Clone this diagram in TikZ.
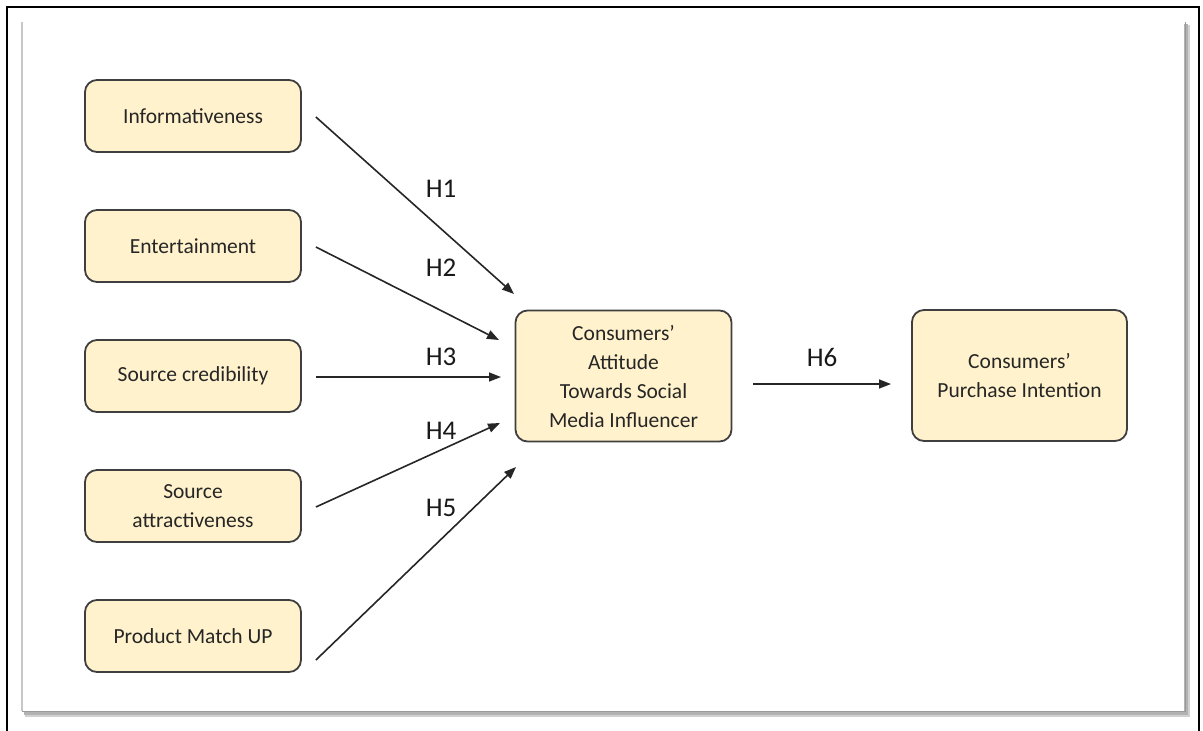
\documentclass[tikz,border=0pt]{standalone}
\usepackage{fontspec}
\setmainfont{Carlito}
\usetikzlibrary{arrows.meta,shadows}
\definecolor{boxfill}{HTML}{FFF2CC}
\definecolor{boxline}{HTML}{3F3F3F}
\definecolor{arr}{HTML}{262626}
\tikzset{
  box/.style={draw=boxline, line width=1.8pt, fill=boxfill, rounded corners=12pt,
    minimum width=216pt, minimum height=72pt, align=center, font=\fontsize{21.5}{29}\selectfont, text=black!85, inner sep=0pt},
  bigbox/.style={box, minimum width=216pt, minimum height=131pt},
  conn/.style={draw=arr, line width=1.6pt, -{Triangle[length=12pt,width=9pt]}},
  hlabel/.style={font=\fontsize{27}{30}\selectfont, text=black!90}
}
\begin{document}
\begin{tikzpicture}[x=1pt,y=-1pt]
\useasboundingbox (0,0) rectangle (1203,731);
\fill[white] (0,0) rectangle (1203,731);
% outer frame
\draw[line width=2pt] (7,740) -- (7,7) -- (1199,7) -- (1199,740);
% shadowed panel
\fill[black!18] (25,25) rectangle (1190,717);
\fill[black!30] (24,24) rectangle (1188,715);
\fill[white] (23,23) rectangle (1184,711);
\draw[black!40, line width=1pt] (22,711) -- (1185,711) -- (1185,22);
\draw[black!22, line width=1.2pt] (22,22) -- (22,711);
% nodes
\node[box] (info) at (193,116) {Informativeness};
\node[box] (ent)  at (193,246) {Entertainment};
\node[box] (cred) at (193,376) {Source credibility};
\node[box] (attr) at (193,506) {Source\\attractiveness};
\node[box] (prod) at (193,636) {Product Match UP};
\node[bigbox] (att) at (623.5,376) {Consumers'\\Attitude\\Towards Social\\Media Influencer};
\node[bigbox, minimum width=215pt, minimum height=131pt] (pi) at (1019.5,375.5) {Consumers'\\Purchase Intention};
% arrow end points
\coordinate (e1) at (514,294);
\coordinate (e2) at (499,340);
\coordinate (e3) at (501,377);
\coordinate (e4) at (500,423);
\coordinate (e5) at (516,467);
\coordinate (e6) at (891,384);
% connectors
\draw[conn] ([xshift=14pt,yshift=-1pt]info.east) -- (e1);
\draw[conn] ([xshift=14pt,yshift=-1pt]ent.east) -- (e2);
\draw[conn] ([xshift=14pt,yshift=-1pt]cred.east) -- (e3);
\draw[conn] ([xshift=14pt,yshift=-1pt]attr.east) -- (e4);
\draw[conn] ([xshift=14pt,yshift=-24pt]prod.east) -- (e5);
\draw[conn] ([xshift=21pt,yshift=-8pt]att.east) -- (e6);
% labels
\node[hlabel] (h1) at (441,189) {H1};
\node[hlabel] (h2) at (441,268) {H2};
\node[hlabel] (h3) at (441,357) {H3};
\node[hlabel] (h4) at (441,431) {H4};
\node[hlabel] (h5) at (441,508) {H5};
\node[hlabel] (h6) at (822,357) {H6};
\end{tikzpicture}
\end{document}
